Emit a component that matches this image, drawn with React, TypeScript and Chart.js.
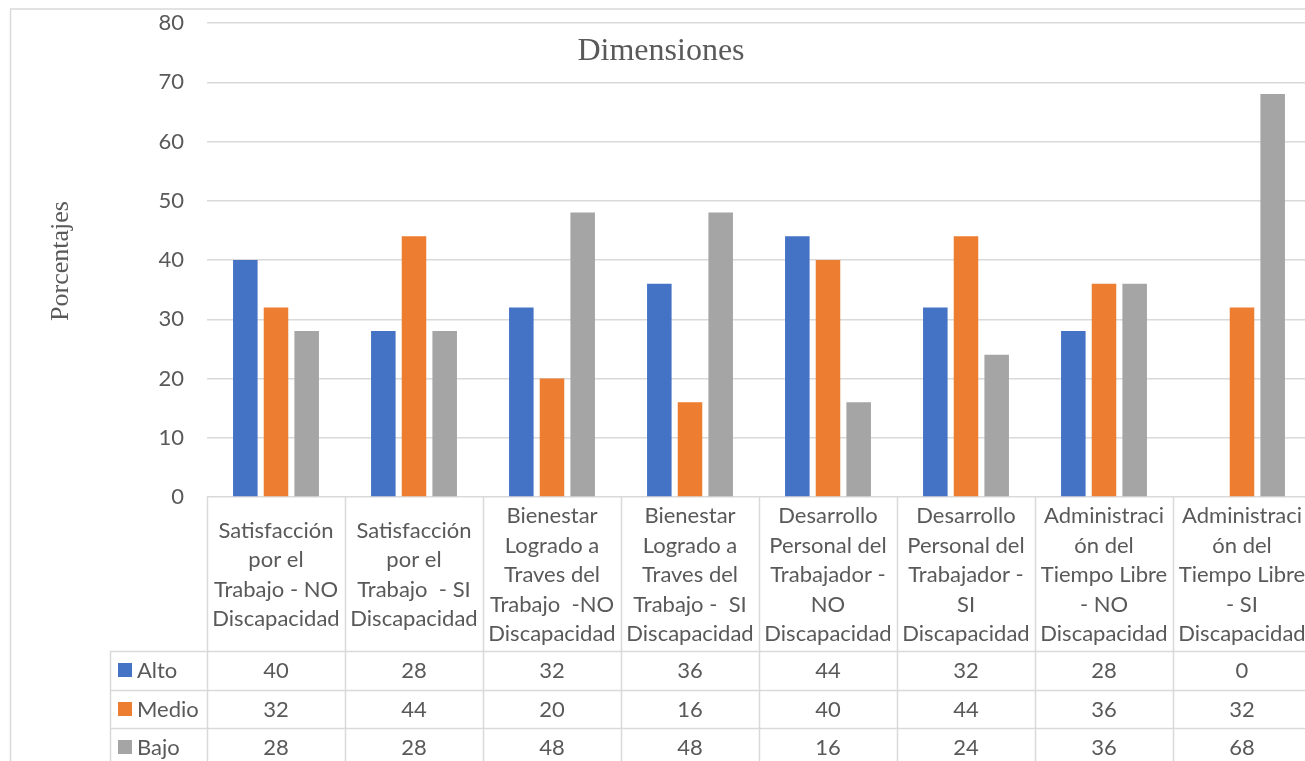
import { useEffect, useRef } from "react";
import { Chart, registerables } from "chart.js";

Chart.register(...registerables);

// Category labels, one entry per wrapped line as printed in the data table header
const categories: string[][] = [
  ["Satisfacción", "por el", "Trabajo - NO", "Discapacidad"],
  ["Satisfacción", "por el", "Trabajo  - SI", "Discapacidad"],
  ["Bienestar", "Logrado a", "Traves del", "Trabajo  -NO", "Discapacidad"],
  ["Bienestar", "Logrado a", "Traves del", "Trabajo -  SI", "Discapacidad"],
  ["Desarrollo", "Personal del", "Trabajador -", "NO", "Discapacidad"],
  ["Desarrollo", "Personal del", "Trabajador -", "SI", "Discapacidad"],
  ["Administraci", "ón del", "Tiempo Libre", "- NO", "Discapacidad"],
  ["Administraci", "ón del", "Tiempo Libre", "- SI", "Discapacidad"],
];

const seriesNames = ["Alto", "Medio", "Bajo"];
const alto = [40, 28, 32, 36, 44, 32, 28, 0];
const medio = [32, 44, 20, 16, 40, 44, 36, 32];
const bajo = [28, 28, 48, 48, 16, 24, 36, 68];
const seriesColors = ["#4472C4", "#ED7D31", "#A5A5A5"];

const yMin = 0;
const yMax = 80;
const yStep = 10;

const chartTitle = "Dimensiones";
const yAxisTitle = "Porcentajes";

const CANVAS_W = 1330;
const CANVAS_H = 800;
const TEXT_COLOR = "#595959";
const LINE_COLOR = "#d9d9d9";
const TABLE_FONT = "22px Lato";

// Draws the frame, the title, the vertical axis title and the data table under the plot
const tablePlugin = {
  id: "dataTable",
  beforeDraw(chart: any) {
    const { ctx } = chart;
    ctx.save();
    ctx.fillStyle = "#ffffff";
    ctx.fillRect(0, 0, chart.width, chart.height);
    ctx.strokeStyle = LINE_COLOR;
    ctx.lineWidth = 1.5;
    ctx.strokeRect(10.5, 9, chart.width + 50, chart.height + 50);
    ctx.restore();
  },
  afterDraw(chart: any) {
    const { ctx, chartArea } = chart;
    const xs = chart.scales.x;
    const labels = chart.data.labels as string[][];
    const n = labels.length;
    const colW = (chartArea.right - chartArea.left) / n;
    const top = chartArea.bottom;
    const headerH = 154;
    const headerBottom = top + headerH;
    const rowH = 38.5;
    const legendLeft = 110;
    const lineH = 29.5;

    ctx.save();

    // Titles
    ctx.fillStyle = TEXT_COLOR;
    ctx.font = "32px 'Liberation Serif'";
    ctx.textAlign = "center";
    ctx.textBaseline = "alphabetic";
    ctx.fillText(chartTitle, 661, 60);

    ctx.save();
    ctx.translate(68, 261);
    ctx.rotate(-Math.PI / 2);
    ctx.font = "26px 'Liberation Serif'";
    ctx.textBaseline = "alphabetic";
    ctx.fillText(yAxisTitle, 0, 0);
    ctx.restore();

    // Table grid
    ctx.strokeStyle = LINE_COLOR;
    ctx.lineWidth = 1.5;
    ctx.beginPath();
    for (let k = 0; k <= n; k++) {
      const x = Math.round(chartArea.left + k * colW) + 0.5;
      ctx.moveTo(x, top);
      ctx.lineTo(x, chart.height);
    }
    ctx.moveTo(legendLeft + 0.5, headerBottom);
    ctx.lineTo(legendLeft + 0.5, chart.height);
    for (let r = 0; r <= chart.data.datasets.length; r++) {
      const y = Math.round(headerBottom + r * rowH) + 0.5;
      ctx.moveTo(legendLeft, y);
      ctx.lineTo(chartArea.right, y);
    }
    ctx.stroke();

    // Header labels
    ctx.fillStyle = TEXT_COLOR;
    ctx.font = TABLE_FONT;
    ctx.textAlign = "center";
    ctx.textBaseline = "middle";
    const headerMid = top + headerH / 2 + 1;
    labels.forEach((lines, i) => {
      const cx = xs.getPixelForValue(i);
      lines.forEach((line, j) => {
        const y = headerMid + (j - (lines.length - 1) / 2) * lineH;
        ctx.fillText(line, cx, y);
      });
    });

    // Series rows
    chart.data.datasets.forEach((ds: any, d: number) => {
      const cy = headerBottom + (d + 0.5) * rowH;
      ctx.fillStyle = ds.backgroundColor;
      ctx.fillRect(118, Math.round(cy - 7), 14, 14);
      ctx.fillStyle = TEXT_COLOR;
      ctx.textAlign = "left";
      ctx.fillText(ds.label, 137, cy + 1);
      ctx.textAlign = "center";
      (ds.data as number[]).forEach((v, i) => {
        ctx.fillText(String(v), xs.getPixelForValue(i), cy + 1);
      });
    });

    ctx.restore();
  },
};

export default function App() {
  const canvasRef = useRef<HTMLCanvasElement | null>(null);

  useEffect(() => {
    const canvas = canvasRef.current;
    if (!canvas) return;
    const seriesValues = [alto, medio, bajo];
    const chart = new Chart(canvas, {
      type: "bar",
      data: {
        labels: categories,
        datasets: seriesNames.map((name, i) => ({
          label: name,
          data: seriesValues[i],
          backgroundColor: seriesColors[i],
          borderWidth: 0,
          categoryPercentage: 0.667,
          barPercentage: 0.8,
        })),
      },
      options: {
        responsive: false,
        animation: false,
        devicePixelRatio: 1,
        layout: {
          padding: { left: 10, top: 23, right: CANVAS_W - 1311, bottom: CANVAS_H - 497 },
        },
        plugins: {
          legend: { display: false },
          title: { display: false },
          tooltip: { enabled: false },
        },
        scales: {
          x: {
            display: false,
          },
          y: {
            min: yMin,
            max: yMax,
            afterFit: (scale: any) => {
              scale.width = 197;
            },
            ticks: {
              stepSize: yStep,
              padding: 0,
              color: TEXT_COLOR,
              font: { family: "Lato", size: 22 },
            },
            grid: {
              color: LINE_COLOR,
              lineWidth: 1.5,
              drawTicks: true,
              tickLength: 23,
              tickColor: "rgba(0,0,0,0)",
            },
            border: { display: false },
          },
        },
      },
      plugins: [tablePlugin],
    } as any);
    return () => chart.destroy();
  }, []);

  return (
    <div
      style={{
        position: "fixed",
        left: 0,
        top: 0,
        width: 1305,
        height: 761,
        overflow: "hidden",
        background: "#ffffff",
      }}
    >
      <canvas
        ref={canvasRef}
        width={CANVAS_W}
        height={CANVAS_H}
        style={{ display: "block", width: CANVAS_W, height: CANVAS_H }}
      />
    </div>
  );
}
